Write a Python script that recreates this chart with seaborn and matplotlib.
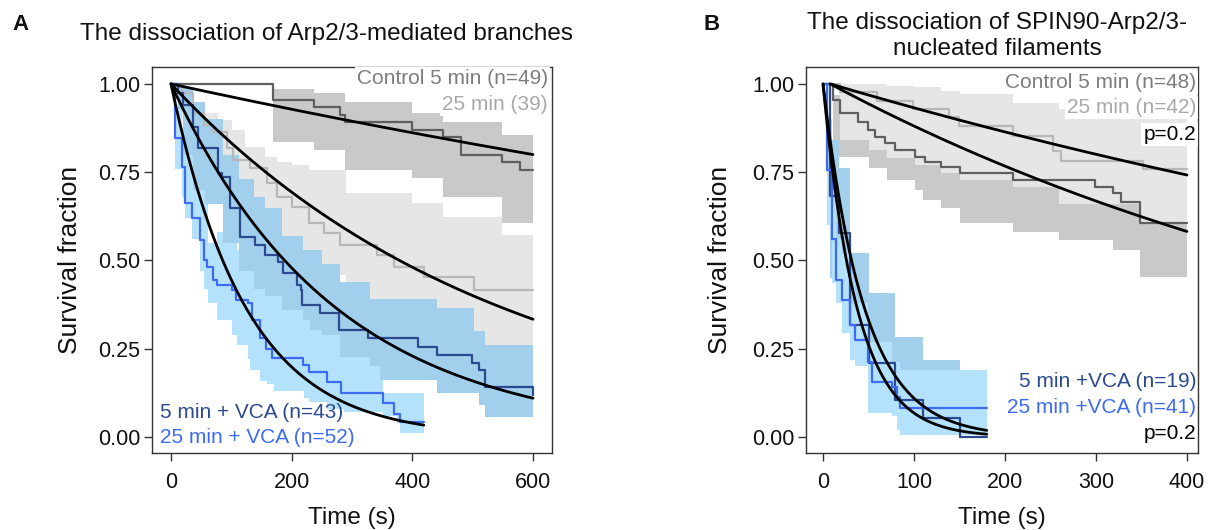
import numpy as np
import matplotlib
matplotlib.use("Agg")
import matplotlib.pyplot as plt
import seaborn as sns

# ---------------- Panel A : Arp2/3-mediated branches ----------------
# Control 5 min (n=49)
a_ctrl5_t = [0, 169, 237, 280, 289, 399, 451, 480, 549, 579, 600]
a_ctrl5_s = [1, .955, .936, .912, .893, .870, .851, .799, .78, .756, .756]
a_ctrl5_ci_t = [0, 169, 237, 289, 399, 451, 549, 600]
a_ctrl5_lo = [1, .836, .813, .756, .733, .68, .606, .606]
a_ctrl5_hi = [1, .985, .974, .95, .918, .893, .855, .855]

# Control 25 min (39)
a_ctrl25_t = [0, 18, 37, 54, 70, 92, 103, 131, 159, 175, 200, 228, 253, 280, 341, 369, 419, 502, 600]
a_ctrl25_s = [1, .974, .917, .884, .865, .818, .785, .761, .719, .681, .652, .605, .577, .544, .516, .482, .454, .416, .416]
a_ctrl25_ci_t = [0, 18, 37, 56, 78, 101, 123, 156, 175, 200, 228, 290, 399, 451, 549, 600]
a_ctrl25_hi = [1, .99, .946, .917, .898, .87, .822, .794, .78, .77, .756, .69, .663, .624, .572, .572]
a_ctrl25_lo = [1, .90, .80, .75, .71, .66, .62, .58, .55, .50, .46, .38, .34, .25, .24, .24]

# 5 min + VCA (n=43)
a_vca5_t = [0, 12, 20.5, 37, 45, 78.5, 84, 98, 114, 139, 156, 178, 186, 209, 215, 217, 247, 278, 327, 410, 441, 499, 510, 521, 600]
a_vca5_s = [1, .974, .94, .879, .818, .747, .737, .649, .567, .544, .516, .497, .464, .431, .416, .374, .350, .303, .28, .256, .232, .209, .19, .143, .119]
a_vca5_ci_t = [0, 12, 20, 37, 56, 87, 112, 137, 156, 184, 219, 231, 250, 280, 330, 347, 441, 502, 510, 521, 600]
a_vca5_hi = [1, 1, .99, .95, .90, .80, .73, .68, .65, .57, .53, .53, .49, .44, .39, .39, .365, .30, .30, .26, .26]
a_vca5_lo = [1, .93, .80, .70, .66, .55, .47, .42, .40, .36, .33, .303, .29, .227, .20, .161, .124, .124, .091, .058, .058]

# 25 min + VCA (n=52)
a_vca25_t = [0, 6.6, 17.7, 23, 34, 48, 54, 59, 70, 76, 101, 108, 128, 135, 148, 157, 168, 218, 228, 258, 282, 352, 370, 380, 419]
a_vca25_s = [1, .846, .766, .662, .62, .558, .501, .482, .445, .43, .415, .388, .379, .331, .28, .25, .225, .204, .185, .155, .124, .095, .065, .043, .043]
a_vca25_ci_t = [0, 6.6, 17.7, 23, 34, 48, 54, 62, 76, 101, 109, 128, 131, 148, 159, 170, 220, 228, 258, 286, 352, 375, 380, 419]
a_vca25_hi = [1, .93, .87, .82, .80, .72, .70, .55, .58, .56, .53, .52, .50, .47, .45, .42, .38, .37, .34, .30, .124, .124, .124, .124]
a_vca25_lo = [1, .76, .68, .62, .56, .47, .42, .38, .33, .29, .26, .22, .19, .16, .15, .13, .11, .10, .08, .07, .06, .04, .01, .01]

# exponential fits (rate per s, end time)
a_fit_k = [3.72e-4, 1.83e-3, 3.68e-3, 8.09e-3]
a_fit_end = [600, 600, 600, 419]

# ---------------- Panel B : SPIN90-Arp2/3-nucleated filaments ----------------
b_ctrl5_t = [0, 11.4, 18.7, 38.8, 49.8, 57, 68, 79, 101, 112, 130, 150, 209, 299, 319, 328, 348, 400]
b_ctrl5_s = [1, .955, .917, .893, .870, .851, .832, .813, .794, .78, .766, .747, .728, .709, .69, .667, .605, .605]
b_ctrl5_ci_t = [0, 11.4, 50, 70, 101, 110, 130, 150, 209, 259, 319, 348, 400]
b_ctrl5_lo = [1, .794, .761, .728, .70, .671, .648, .605, .58, .558, .53, .454, .454]
b_ctrl5_hi = [1, .97, .97, .96, .95, .94, .93, .92, .90, .88, .86, .84, .84]

b_ctrl25_t = [0, 18.7, 59, 99, 138, 149, 209, 253, 262, 352, 400]
b_ctrl25_s = [1, .976, .952, .93, .905, .881, .853, .81, .782, .759, .759]
b_ctrl25_ci_t = [0, 18.7, 50, 70, 101, 130, 150, 209, 259, 348, 400]
b_ctrl25_lo = [1, .841, .813, .79, .771, .747, .728, .709, .66, .605, .605]
b_ctrl25_hi = [1, 1, 1, .995, .99, .98, .971, .947, .93, .91, .91]

b_vca5_t = [0, 8, 18, 30, 50, 79, 110, 150, 180]
b_vca5_s = [1, .684, .579, .316, .211, .105, .053, 0, 0]
b_vca5_hi = [1, .84, .761, .52, .407, .284, .218, 0, 0]
b_vca5_lo = [1, .45, .40, .22, .08, .06, .01, 0, 0]

b_vca25_t = [0, 4, 9.5, 14.3, 20.5, 29.7, 35, 49.8, 53.5, 75.5, 81, 84.6, 180]
b_vca25_s = [1, .756, .56, .445, .388, .317, .275, .213, .157, .143, .114, .081, .081]
b_vca25_hi = [1, .90, .70, .56, .52, .38, .38, .27, .27, .213, .213, .19, .19]
b_vca25_lo = [1, .60, .435, .38, .294, .218, .20, .067, .067, .06, .02, .006, .006]

b_fit_k = [7.61e-4, 1.38e-3, 2.69e-2, 2.21e-2]
b_fit_start = [8, 8, 0, 0]
b_fit_end = [400, 400, 180, 180]

yticks = [0, .25, .5, .75, 1.0]
ytick_labels = ["0.00", "0.25", "0.50", "0.75", "1.00"]

# colours
c_ctrl5, c_ctrl25 = "#5f5f5f", "#b8b8b8"
c_vca5, c_vca25 = "#2c4a8f", "#3d6cf2"
f_ctrl5, f_ctrl25 = "#c9c9c9", "#e6e6e6"
f_vca5, f_vca25 = "#a2cfec", "#b4e1fb"
t_ctrl5, t_ctrl25 = "#7d7d7d", "#a9a9a9"

sns.set_style("ticks")
plt.rcParams['font.family'] = ['Liberation Sans', 'DejaVu Sans']
plt.rcParams['text.color'] = '#111111'
plt.rcParams['axes.labelcolor'] = '#111111'

fig = plt.figure(figsize=(12.11, 5.30), dpi=100)
axA = fig.add_axes([152 / 1211, 77 / 530, 400 / 1211, 386 / 530])
axB = fig.add_axes([806 / 1211, 77 / 530, 392 / 1211, 386 / 530])


def band(ax, t, lo, hi, color, z):
    ax.fill_between(t, lo, hi, step='post', color=color, lw=0, zorder=z)


def km(ax, t, s, color, z):
    sns.lineplot(x=t, y=s, ax=ax, color=color, lw=1.6, drawstyle='steps-post',
                 estimator=None, sort=False, zorder=z)


def fit(ax, t0, t1, k):
    tt = np.linspace(t0, t1, 300)
    sns.lineplot(x=tt, y=np.exp(-k * (tt - t0)), ax=ax, color='black', lw=2.0,
                 estimator=None, sort=False, zorder=10)


# panel A
band(axA, a_ctrl25_ci_t, a_ctrl25_lo, a_ctrl25_hi, f_ctrl25, 1)
band(axA, a_ctrl5_ci_t, a_ctrl5_lo, a_ctrl5_hi, f_ctrl5, 2)
band(axA, a_vca25_ci_t, a_vca25_lo, a_vca25_hi, f_vca25, 3)
band(axA, a_vca5_ci_t, a_vca5_lo, a_vca5_hi, f_vca5, 4)
km(axA, a_ctrl25_t, a_ctrl25_s, c_ctrl25, 5)
km(axA, a_ctrl5_t, a_ctrl5_s, c_ctrl5, 6)
km(axA, a_vca5_t, a_vca5_s, c_vca5, 7)
km(axA, a_vca25_t, a_vca25_s, c_vca25, 8)
for k, t1 in zip(a_fit_k, a_fit_end):
    fit(axA, 0, t1, k)

# panel B
band(axB, b_ctrl5_ci_t, b_ctrl5_lo, b_ctrl5_hi, f_ctrl5, 1)
band(axB, b_ctrl25_ci_t, b_ctrl25_lo, b_ctrl25_hi, f_ctrl25, 2)
band(axB, b_vca5_t, b_vca5_lo, b_vca5_hi, f_vca5, 3)
band(axB, b_vca25_t, b_vca25_lo, b_vca25_hi, f_vca25, 4)
km(axB, b_ctrl25_t, b_ctrl25_s, c_ctrl25, 5)
km(axB, b_ctrl5_t, b_ctrl5_s, c_ctrl5, 6)
km(axB, b_vca5_t, b_vca5_s, c_vca5, 7)
km(axB, b_vca25_t, b_vca25_s, c_vca25, 8)
for k, t0, t1 in zip(b_fit_k, b_fit_start, b_fit_end):
    fit(axB, t0, t1, k)

axA.set_xlim(-31.5, 631.5)
axA.set_xticks([0, 200, 400, 600])
axB.set_xlim(-18.7, 412.1)
axB.set_xticks([0, 100, 200, 300, 400])

for ax, ylx in [(axA, -0.175), (axB, -0.19)]:
    ax.set_ylim(-0.0453, 1.048)
    ax.set_yticks(yticks)
    ax.set_yticklabels(ytick_labels)
    ax.tick_params(axis='both', labelsize=15.5, length=5.5, width=1,
                   color='#333333', labelcolor='#111111')
    ax.tick_params(axis='x', pad=8)
    ax.tick_params(axis='y', pad=3)
    for sp in ax.spines.values():
        sp.set_linewidth(1.0)
        sp.set_color('#333333')
    ax.set_ylabel("Survival fraction", fontsize=19)
    ax.set_xlabel("Time (s)", fontsize=17.5)
    ax.yaxis.set_label_coords(ylx, 0.5)
    ax.xaxis.set_label_coords(0.5, -0.14)

box = dict(facecolor='white', edgecolor='none', pad=1.5)
lab = dict(fontsize=15, zorder=20)
axA.text(0.99, 0.969, "Control 5 min (n=49)", transform=axA.transAxes, ha='right', va='center',
         color=t_ctrl5, bbox=box, **lab)
axA.text(0.99, 0.902, "25 min (39)", transform=axA.transAxes, ha='right', va='center',
         color=t_ctrl25, bbox=box, **lab)
axA.text(0.02, 0.104, "5 min + VCA (n=43)", transform=axA.transAxes, ha='left', va='center',
         color=c_vca5, **lab)
axA.text(0.02, 0.039, "25 min + VCA (n=52)", transform=axA.transAxes, ha='left', va='center',
         color=c_vca25, **lab)

axB.text(0.995, 0.959, "Control 5 min (n=48)", transform=axB.transAxes, ha='right', va='center',
         color=t_ctrl5, bbox=box, **lab)
axB.text(0.995, 0.894, "25 min (n=42)", transform=axB.transAxes, ha='right', va='center',
         color=t_ctrl25, bbox=box, **lab)
axB.text(0.995, 0.826, "p=0.2", transform=axB.transAxes, ha='right', va='center',
         color='black', bbox=box, **lab)
axB.text(0.995, 0.185, "5 min +VCA (n=19)", transform=axB.transAxes, ha='right', va='center',
         color=c_vca5, **lab)
axB.text(0.995, 0.119, "25 min +VCA (n=41)", transform=axB.transAxes, ha='right', va='center',
         color=c_vca25, **lab)
axB.text(0.995, 0.0505, "p=0.2", transform=axB.transAxes, ha='right', va='center',
         color='black', **lab)

# panel letters and titles
fig.text(21 / 1211, 1 - 30 / 530, "A", fontsize=16, fontweight='bold', ha='center', va='baseline')
fig.text(326 / 1211, 1 - 40 / 530, "The dissociation of Arp2/3-mediated branches",
         fontsize=17.5, ha='center', va='baseline')
fig.text(712 / 1211, 1 - 30 / 530, "B", fontsize=16, fontweight='bold', ha='center', va='baseline')
fig.text(997 / 1211, 1 - 55 / 530, "The dissociation of SPIN90-Arp2/3-\nnucleated filaments",
         fontsize=17.5, ha='center', va='baseline', linespacing=1.22, multialignment='center')

fig.savefig("out.png", dpi=100)
